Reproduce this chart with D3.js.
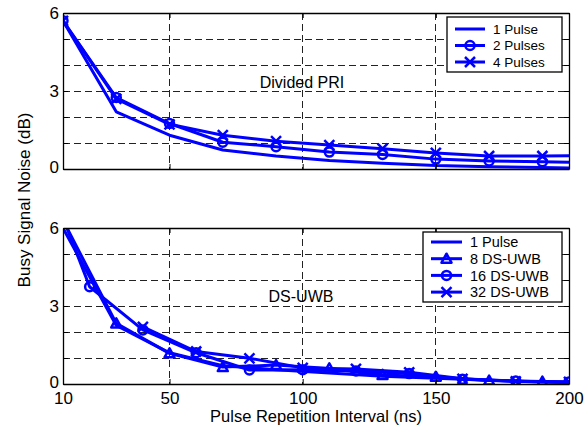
<!DOCTYPE html>
<html>
<head>
<meta charset="utf-8">
<script src="https://cdnjs.cloudflare.com/ajax/libs/d3/7.8.5/d3.min.js"></script>
<style>
  body { margin: 0; background: #fff; }
  svg { font-family: "Liberation Sans", Arial, sans-serif; }
</style>
</head>
<body>
<svg id="chart" width="587" height="425"></svg>
<script>
// axis ticks
const xTicks = [10, 50, 100, 150, 200];
const yTicks = [0, 1, 2, 3, 4, 5, 6];
const yLabels = [0, 3, 6];

// top panel: Divided PRI
const priX = [10, 30, 50, 70, 90, 110, 130, 150, 170, 190, 200];
const pri1 = [5.7, 2.2, 1.3, 0.73, 0.5, 0.33, 0.22, 0.13, 0.09, 0.06, 0.04];
const pri2 = [5.7, 2.75, 1.75, 1.03, 0.86, 0.65, 0.56, 0.38, 0.31, 0.28, 0.26];
const pri4 = [5.7, 2.7, 1.72, 1.3, 1.07, 0.92, 0.78, 0.62, 0.5, 0.5, 0.51];

// bottom panel: DS-UWB
const dsOddX = [10, 30, 50, 70, 90, 110, 130, 150, 170, 190, 200];
const ds1 = [6.0, 2.25, 1.2, 0.7, 0.55, 0.42, 0.3, 0.22, 0.14, 0.08, 0.06];
const ds8 = [6.3, 2.33, 1.18, 0.65, 0.73, 0.6, 0.35, 0.28, 0.13, 0.09, 0.07];
const dsEvenX = [10, 20, 40, 60, 80, 100, 120, 140, 160, 180, 200];
const ds16 = [6.4, 3.74, 2.08, 1.2, 0.54, 0.55, 0.5, 0.4, 0.18, 0.12, 0.08];
const ds32X = [40, 60, 80, 100, 120, 140, 160, 180, 200];
const ds32 = [2.2, 1.25, 0.99, 0.62, 0.58, 0.45, 0.2, 0.1, 0.08];

const svg = d3.select("#chart");
const blue = "#0000ff";
const left = 63, right = 569;

const x = d3.scaleLinear().domain([10, 200]).range([left, right]);

const panels = [
    {
        id: "top", y0: 13, y1: 169, title: "Divided PRI", titleX: 302, titleY: 88,
        legend: { x: 447, y: 17, w: 115, h: 55, rowY: 12, step: 16.5, lineW: 30, font: 13.5 },
        series: [
            { name: "1 Pulse", xs: priX, ys: pri1, marker: null },
            { name: "2 Pulses", xs: priX, ys: pri2, marker: "circle", every: d => d % 20 === 10 },
            { name: "4 Pulses", xs: priX, ys: pri4, marker: "x", every: d => d % 20 === 10 }
        ]
    },
    {
        id: "bot", y0: 228, y1: 384, title: "DS-UWB", titleX: 301, titleY: 302,
        legend: { x: 423, y: 232, w: 139, h: 70, rowY: 10, step: 16.7, lineW: 31, font: 14.5 },
        series: [
            { name: "1 Pulse", xs: dsOddX, ys: ds1, marker: null },
            { name: "8 DS-UWB", xs: dsOddX, ys: ds8, marker: "triangle", every: d => d % 20 === 10 },
            { name: "16 DS-UWB", xs: dsEvenX, ys: ds16, marker: "circle", every: () => true },
            { name: "32 DS-UWB", xs: ds32X, ys: ds32, marker: "x", every: () => true }
        ]
    }
];

function drawMarker(g, type, cx, cy) {
    if (type === "circle") {
        g.append("circle").attr("cx", cx).attr("cy", cy).attr("r", 4.5)
            .attr("fill", "none").attr("stroke", blue).attr("stroke-width", 2.5);
    } else if (type === "x") {
        const s = 5;
        g.append("path")
            .attr("d", `M${cx - s},${cy - s}L${cx + s},${cy + s}M${cx - s},${cy + s}L${cx + s},${cy - s}`)
            .attr("stroke", blue).attr("stroke-width", 2.5).attr("fill", "none");
    } else if (type === "triangle") {
        const s = 5;
        g.append("path")
            .attr("d", `M${cx},${cy - s}L${cx + s},${cy + s * 0.8}L${cx - s},${cy + s * 0.8}Z`)
            .attr("stroke", blue).attr("stroke-width", 2.5).attr("fill", "none")
            .attr("stroke-linejoin", "round");
    }
}

panels.forEach(p => {
    const y = d3.scaleLinear().domain([0, 6]).range([p.y1, p.y0]);
    const g = svg.append("g");

    // grid
    g.append("g")
        .selectAll("line.gx")
        .data(xTicks.filter(d => d > 10 && d < 200))
        .enter().append("line")
        .attr("x1", d => x(d)).attr("x2", d => x(d))
        .attr("y1", p.y0).attr("y2", p.y1)
        .attr("stroke", "#222").attr("stroke-width", 1).attr("stroke-dasharray", "7,4")
        .attr("shape-rendering", "crispEdges");
    g.append("g")
        .selectAll("line.gy")
        .data(yTicks.filter(d => d > 0 && d < 6))
        .enter().append("line")
        .attr("x1", left).attr("x2", right)
        .attr("y1", d => y(d)).attr("y2", d => y(d))
        .attr("stroke", "#222").attr("stroke-width", 1).attr("stroke-dasharray", "7,4")
        .attr("shape-rendering", "crispEdges");

    // clip for lines
    svg.append("clipPath").attr("id", "clip-" + p.id)
        .append("rect").attr("x", left).attr("y", p.y0)
        .attr("width", right - left).attr("height", p.y1 - p.y0);

    const line = d3.line().x(d => x(d[0])).y(d => y(d[1]));
    const plot = g.append("g").attr("clip-path", `url(#clip-${p.id})`);

    p.series.forEach(s => {
        const pts = s.xs.map((xv, i) => [xv, s.ys[i]]);
        plot.append("path").datum(pts)
            .attr("d", line).attr("fill", "none")
            .attr("stroke", blue).attr("stroke-width", 3)
            .attr("stroke-linejoin", "round");
        if (s.marker) {
            pts.filter(d => s.every(d[0]) && d[1] <= 6)
                .forEach(d => drawMarker(plot, s.marker, x(d[0]), y(d[1])));
        }
    });

    // axes (box with inward ticks)
    const axB = g.append("g").attr("transform", `translate(0,${p.y1})`)
        .call(d3.axisBottom(x).tickValues(xTicks).tickSizeInner(-5).tickSizeOuter(0)
            .tickFormat(p.id === "bot" ? d3.format("d") : ""));
    const axT = g.append("g").attr("transform", `translate(0,${p.y0})`)
        .call(d3.axisTop(x).tickValues(xTicks).tickSizeInner(-5).tickSizeOuter(0).tickFormat(""));
    const axL = g.append("g").attr("transform", `translate(${left},0)`)
        .call(d3.axisLeft(y).tickValues(yTicks).tickSizeInner(-5).tickSizeOuter(0)
            .tickFormat(d => yLabels.includes(d) ? d : ""));
    const axR = g.append("g").attr("transform", `translate(${right},0)`)
        .call(d3.axisRight(y).tickValues(yTicks).tickSizeInner(-5).tickSizeOuter(0).tickFormat(""));

    [axB, axT, axL, axR].forEach(a => {
        a.select(".domain").attr("stroke", "#000").attr("stroke-width", 1.3);
        a.selectAll(".tick line").attr("stroke", "#000");
        a.selectAll("text").attr("fill", "#000").style("font-size", "17px")
            .style("font-family", "'Liberation Sans', Arial, sans-serif");
    });
    axB.selectAll("text").attr("dy", "0.92em").attr("y", 4);
    axL.selectAll("text").attr("x", -4).attr("dy", d => d === 0 ? "0.2em" : "0.3em");

    // panel caption
    g.append("text").attr("x", p.titleX).attr("y", p.titleY)
        .attr("text-anchor", "middle").style("font-size", "16px").text(p.title);

    // legend
    const L = p.legend;
    const lg = g.append("g").attr("transform", `translate(${L.x},${L.y})`);
    lg.append("rect").attr("width", L.w).attr("height", L.h)
        .attr("fill", "#fff").attr("stroke", "#000").attr("stroke-width", 1.3);
    p.series.forEach((s, i) => {
        const ry = L.rowY + i * L.step;
        lg.append("line").attr("x1", 8).attr("x2", 8 + L.lineW)
            .attr("y1", ry).attr("y2", ry)
            .attr("stroke", blue).attr("stroke-width", 3);
        if (s.marker) drawMarker(lg, s.marker, 8 + L.lineW / 2, ry);
        lg.append("text").attr("x", 8 + L.lineW + 8).attr("y", ry)
            .attr("dy", "0.36em").style("font-size", L.font + "px").text(s.name);
    });
});

// axis titles
svg.append("text")
    .attr("x", 316).attr("y", 422)
    .attr("text-anchor", "middle").style("font-size", "16.5px")
    .text("Pulse Repetition Interval (ns)");
svg.append("text")
    .attr("transform", "translate(30,200) rotate(-90)")
    .attr("text-anchor", "middle").style("font-size", "17px")
    .text("Busy Signal Noise (dB)");
</script>
</body>
</html>
